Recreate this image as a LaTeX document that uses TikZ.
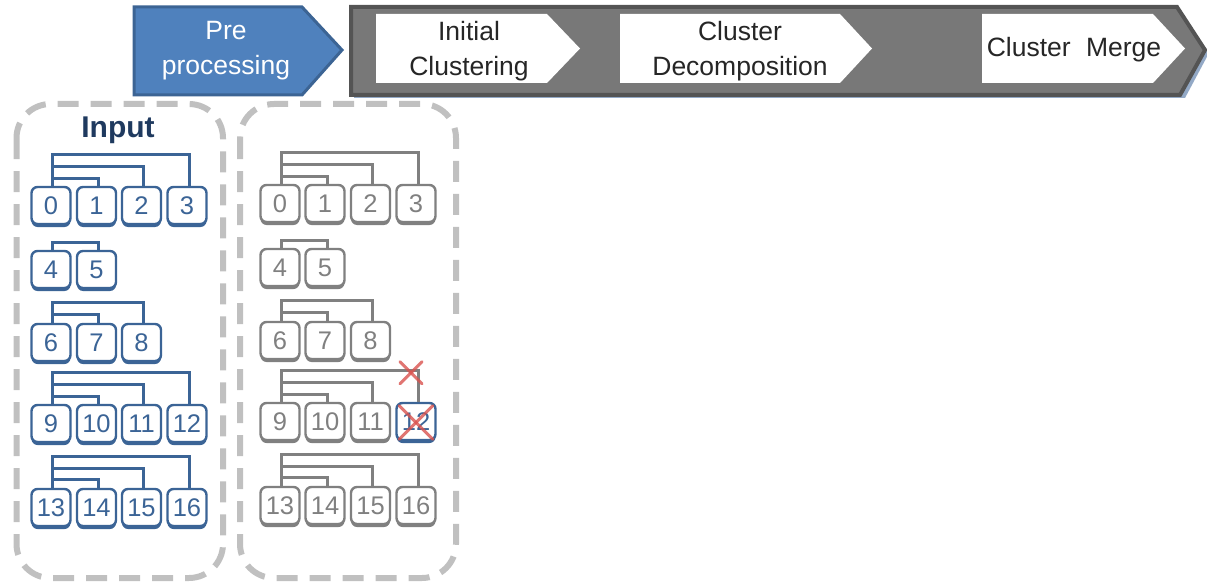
\documentclass[tikz,border=0pt]{standalone}
\usepackage{fontspec}
\setmainfont{Liberation Sans}
\usetikzlibrary{shadows,shapes.misc}

\definecolor{preblue}{HTML}{4F81BD}
\definecolor{preedge}{HTML}{3C6494}
\definecolor{barfill}{HTML}{787878}
\definecolor{baredge}{HTML}{545454}
\definecolor{barshade}{HTML}{93A9C6}
\definecolor{steptext}{HTML}{262626}
\definecolor{treeblue}{HTML}{3B6496}
\definecolor{treegray}{HTML}{808080}
\definecolor{dashgray}{HTML}{C0C0C0}
\definecolor{inputnavy}{HTML}{1F3A5F}
\definecolor{cutred}{HTML}{D9534F}

\tikzset{
  stepfont/.style={font=\fontsize{26.5}{35}\selectfont, align=center, inner sep=0pt},
  leaf/.style={draw, rounded corners=6pt, line width=2.4pt, fill=white,
    minimum width=39pt, minimum height=37pt, inner sep=0pt,
    font=\fontsize{25.5}{25.5}\selectfont},
  leafblue/.style={leaf, draw=treeblue, text=treeblue,
    drop shadow={shadow xshift=0pt, shadow yshift=-3pt, fill=treeblue, opacity=1}},
  leafgray/.style={leaf, draw=treegray, text=treegray,
    drop shadow={shadow xshift=0pt, shadow yshift=-3pt, fill=treegray, opacity=1}},
  linkblue/.style={draw=treeblue, line width=3pt},
  linkgray/.style={draw=treegray, line width=3pt},
  groupbox/.style={draw=dashgray, line width=6pt, rounded corners=34pt,
    dash pattern=on 21pt off 12pt},
  cut/.style={draw=cutred, line width=3pt, opacity=0.8, line cap=round},
}

\begin{document}
\begin{tikzpicture}[x=1pt, y=-1pt]
\useasboundingbox (0,0) rectangle (1207,583);

% ---------- process banner ----------
\fill[barshade] (354,10) -- (1180,10) -- (1209,53) -- (1185,98) -- (354,98) -- cycle;
\draw[baredge, fill=barfill, line width=4pt, line join=miter]
  (351,7) -- (1177,7) -- (1205,50) -- (1180,95) -- (351,95) -- cycle;
\draw[preedge, fill=preblue, line width=3pt, line join=miter]
  (134,7) -- (302,7) -- (342,50) -- (302,95) -- (134,95) -- cycle;

\fill[white] (376,14) -- (547,14) -- (580,48.5) -- (547,83) -- (376,83) -- cycle;
\fill[white] (620,14) -- (840,14) -- (872,48.5) -- (840,83) -- (620,83) -- cycle;
\fill[white] (982,14) -- (1153,14) -- (1185,48.5) -- (1153,83) -- (982,83) -- cycle;

\node[stepfont, text=white] (pre) at (226,51) {Pre\\processing};
\node[stepfont, text=steptext] (ini) at (469,51) {Initial\\Clustering};
\node[stepfont, text=steptext] (dec) at (740,51) {Cluster\\Decomposition};
\node[stepfont, text=steptext] (mer) at (1074,50) {Cluster\hspace{0.3em} Merge};

% ---------- dashed groups ----------
\draw[groupbox] (16.5,104) rectangle (223,578);
\draw[groupbox] (240,104) rectangle (456,578);

\node[font=\fontsize{30}{30}\selectfont\bfseries, text=inputnavy, anchor=base]
  (input) at (118,138) {Input};

% ---------- input hierarchy (blue) ----------
\foreach \n/\x/\y in {0/51/205.5, 1/96.5/205.5, 2/141.5/205.5, 3/187/205.5,
                      4/51/269.5, 5/96.5/269.5,
                      6/51/342.5, 7/96.5/342.5, 8/141.5/342.5,
                      9/51/423.5, 10/96.5/423.5, 11/141.5/423.5, 12/187/423.5,
                      13/51/507.5, 14/96.5/507.5, 15/141.5/507.5, 16/187/507.5}
  \node[leafblue] (a\n) at (\x,\y) {\n};

% ---------- preprocessed hierarchy (gray) ----------
\foreach \n/\x/\y in {0/280/203.5, 1/325/203.5, 2/370.5/203.5, 3/416/203.5,
                      4/280/267.5, 5/325/267.5,
                      6/280/340.5, 7/325/340.5, 8/370.5/340.5,
                      9/280/421.5, 10/325/421.5, 11/370.5/421.5,
                      13/280/505.5, 14/325/505.5, 15/370.5/505.5, 16/416/505.5}
  \node[leafgray] (b\n) at (\x,\y) {\n};
\node[leafblue] (b12) at (416,421.5) {12};

% ---------- brackets ----------
\foreach \c/\s in {a/linkblue, b/linkgray}{
  % group 0-3
  \draw[\s] ([xshift=1pt]\c0.north) -- ++(0,-31) -| ([xshift=2pt]\c3.north);
  \draw[\s] ([xshift=1pt]\c0.north) ++(0,-19) -| ([xshift=2pt]\c2.north);
  \draw[\s] ([xshift=1pt]\c0.north) ++(0,-7) -| ([xshift=2pt]\c1.north);
  % group 4-5
  \draw[\s] ([xshift=1pt]\c4.north) -- ++(0,-7) -| ([xshift=2pt]\c5.north);
  % group 6-8
  \draw[\s] ([xshift=1pt]\c6.north) -- ++(0,-20) -| ([xshift=2pt]\c8.north);
  \draw[\s] ([xshift=1pt]\c6.north) ++(0,-8) -| ([xshift=2pt]\c7.north);
  % group 9-12
  \draw[\s] ([xshift=1pt]\c9.north) -- ++(0,-31) -| ([xshift=2pt]\c12.north);
  \draw[\s] ([xshift=1pt]\c9.north) ++(0,-19) -| ([xshift=2pt]\c11.north);
  \draw[\s] ([xshift=1pt]\c9.north) ++(0,-7) -| ([xshift=2pt]\c10.north);
  % group 13-16
  \draw[\s] ([xshift=1pt]\c13.north) -- ++(0,-31) -| ([xshift=2pt]\c16.north);
  \draw[\s] ([xshift=1pt]\c13.north) ++(0,-19) -| ([xshift=2pt]\c15.north);
  \draw[\s] ([xshift=1pt]\c13.north) ++(0,-8) -| ([xshift=2pt]\c14.north);
}

% ---------- removed leaf 12 ----------
\coordinate (cutpt) at ([xshift=-5pt, yshift=29pt]b12.north);
\draw[cut] ([shift={(-11,-11)}]cutpt) -- ([shift={(11,11)}]cutpt);
\draw[cut] ([shift={(-11,11)}]cutpt) -- ([shift={(11,-11)}]cutpt);
\draw[cut] ([shift={(4,4)}]b12.north west) -- ([shift={(-4,-2)}]b12.south east);
\draw[cut] ([shift={(4,-2)}]b12.south west) -- ([shift={(-4,4)}]b12.north east);
\end{tikzpicture}
\end{document}
